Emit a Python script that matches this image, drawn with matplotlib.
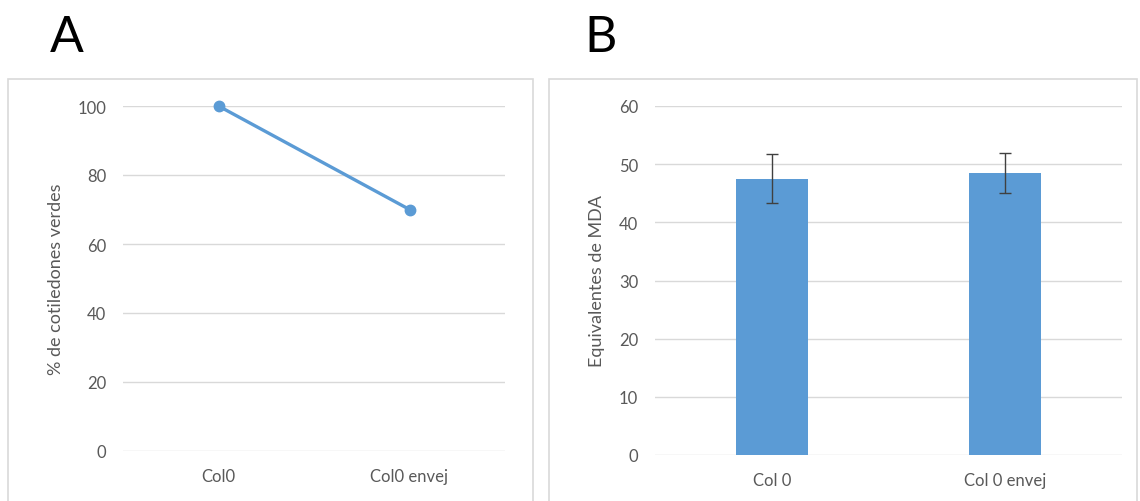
import matplotlib.pyplot as plt
from matplotlib.patches import Rectangle

# data
line_cats = ["Col0", "Col0 envej"]
line_vals = [100, 70]

bar_cats = ["Col 0", "Col 0 envej"]
bar_vals = [47.5, 48.5]
bar_errs = [4.2, 3.5]

blue = "#5B9BD5"
grid_c = "#D9D9D9"
text_c = "#595959"

plt.rcParams['font.family'] = ['Lato', 'DejaVu Sans']

fig = plt.figure(figsize=(11.4, 5.02), dpi=100)

W, H = 1140, 502

def px_rect(x0, y0, x1, y1):
    return Rectangle((x0 / W, 1 - y1 / H), (x1 - x0) / W, (y1 - y0) / H,
                     transform=fig.transFigure, fill=False, edgecolor=grid_c,
                     linewidth=1.2)

fig.patches.append(px_rect(8, 80, 533, 510))
fig.patches.append(px_rect(549, 80, 1137, 510))

fig.text(50 / W, 1 - 52 / H, "A", fontsize=36, color="black")
fig.text(584 / W, 1 - 52 / H, "B", fontsize=36, color="black")


def style(ax):
    for s in ax.spines.values():
        s.set_visible(False)
    ax.tick_params(length=0, colors=text_c, labelsize=12, pad=12)
    ax.yaxis.grid(True, color=grid_c, linewidth=1)
    ax.set_axisbelow(True)


# panel A
axA = fig.add_axes([123 / W, 1 - 452 / H, (505 - 123) / W, (452 - 107) / H])
style(axA)
xa = list(range(len(line_cats)))
axA.plot(xa, line_vals, color=blue, linewidth=2.4, marker="o", markersize=7.5,
         clip_on=False)
axA.set_xlim(-0.5, len(line_cats) - 0.5)
axA.set_ylim(0, 100)
axA.set_yticks(range(0, 101, 20))
axA.set_xticks(xa)
axA.set_xticklabels(line_cats)
axA.set_ylabel("% de cotiledones verdes", color=text_c, fontsize=13, labelpad=10)

# panel B
axB = fig.add_axes([655 / W, 1 - 456 / H, (1122 - 655) / W, (456 - 107) / H])
style(axB)
xb = list(range(len(bar_cats)))
axB.bar(xb, bar_vals, width=0.31, color=blue, yerr=bar_errs,
        error_kw=dict(ecolor="#404040", elinewidth=1, capsize=4, capthick=1))
axB.set_xlim(-0.5, len(bar_cats) - 0.5)
axB.set_ylim(0, 60)
axB.set_yticks(range(0, 61, 10))
axB.set_xticks(xb)
axB.set_xticklabels(bar_cats)
axB.set_ylabel("Equivalentes de MDA", color=text_c, fontsize=13, labelpad=10)

fig.savefig("out.png", dpi=100)
